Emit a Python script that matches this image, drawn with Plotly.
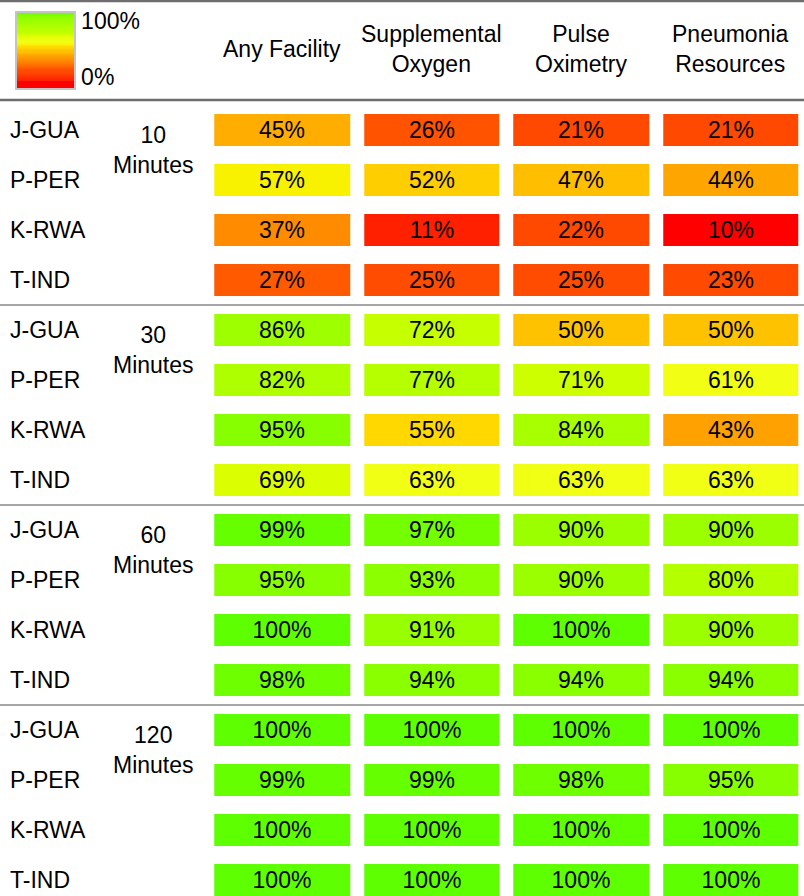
import plotly.graph_objects as go

# ---------------- data ----------------
measures = ["Any Facility", "Supplemental<br>Oxygen", "Pulse<br>Oximetry", "Pneumonia<br>Resources"]
sites = ["J-GUA", "P-PER", "K-RWA", "T-IND"]
groups = ["10<br>Minutes", "30<br>Minutes", "60<br>Minutes", "120<br>Minutes"]

min10 = [[45, 26, 21, 21], [57, 52, 47, 44], [37, 11, 22, 10], [27, 25, 25, 23]]
min30 = [[86, 72, 50, 50], [82, 77, 71, 61], [95, 55, 84, 43], [69, 63, 63, 63]]
min60 = [[99, 97, 90, 90], [95, 93, 90, 80], [100, 91, 100, 90], [98, 94, 94, 94]]
min120 = [[100, 100, 100, 100], [99, 99, 98, 95], [100, 100, 100, 100], [100, 100, 100, 100]]

legend_ticks = [16, 88]
legend_text = ["0%", "100%"]

# ---------------- style ----------------
FONT = "Liberation Sans, Arial, Helvetica, sans-serif"
FS = 23
W, H = 804, 896
ROW_PX = 50          # pixel pitch of rows
COL_PX = 149.5       # pixel pitch of columns
FIRST_ROW_PX = 130   # centre of first row
FIRST_COL_PX = 282   # centre of first column

colorscale = [
    [0.00, "#FF0000"], [0.10, "#FF0000"], [0.11, "#FF2000"], [0.21, "#FF4800"],
    [0.25, "#FF4C00"], [0.27, "#FF5A00"], [0.37, "#FF8C00"], [0.44, "#FFA500"],
    [0.47, "#FFBE00"], [0.50, "#FFC200"], [0.53, "#FFD400"], [0.55, "#FFD800"],
    [0.57, "#F8F200"], [0.61, "#F2FF14"], [0.63, "#F0FF14"], [0.69, "#DCFF00"],
    [0.72, "#C6FF00"], [0.77, "#B6FF00"], [0.80, "#B4FF00"], [0.84, "#A8FF00"],
    [0.86, "#9EFF00"], [0.90, "#9CFF00"], [0.93, "#8CFF00"], [0.95, "#88FF00"],
    [0.97, "#74FF00"], [0.98, "#6EFF00"], [1.00, "#5EFF00"],
]

all_groups = [min10, min30, min60, min120]
z = [row for g in all_groups for row in g]
n_rows = len(z)
n_cols = len(measures)

fig = go.Figure()
fig.add_trace(go.Heatmap(
    z=z,
    x=list(range(n_cols)),
    y=list(range(n_rows)),
    zmin=0, zmax=100,
    colorscale=colorscale,
    xgap=14, ygap=18,
    texttemplate="%{z}%",
    textfont=dict(family=FONT, size=FS, color="black"),
    hoverinfo="skip",
    colorbar=dict(
        xref="container", yref="container",
        x=16 / W, xanchor="left",
        y=1 - 12 / H, yanchor="top",
        lenmode="pixels", len=77,
        thicknessmode="pixels", thickness=59,
        xpad=0, ypad=0,
        outlinewidth=2, outlinecolor="#c4c4c4",
        tickvals=legend_ticks, ticktext=legend_text,
        ticks="", ticklen=0,
        tickfont=dict(family=FONT, size=FS, color="black"),
    ),
))

annotations = []
# header labels
for i, m in enumerate(measures):
    annotations.append(dict(
        x=i, xref="x", y=1 - 49 / H, yref="paper",
        text=m, showarrow=False, xanchor="center", yanchor="middle",
        font=dict(family=FONT, size=FS, color="black"),
    ))
# row labels and group labels
for g, glabel in enumerate(groups):
    for s, site in enumerate(sites):
        annotations.append(dict(
            x=8 / W, xref="paper", y=g * len(sites) + s, yref="y",
            text=site, showarrow=False, xanchor="left", yanchor="middle",
            font=dict(family=FONT, size=FS, color="black"),
        ))
    annotations.append(dict(
        x=153 / W, xref="paper", y=g * len(sites) + 0.4, yref="y",
        text=glabel, showarrow=False, xanchor="center", yanchor="middle",
        font=dict(family=FONT, size=FS, color="black"),
    ))

shapes = []
for g in range(1, len(groups)):
    yy = g * len(sites) - 0.5
    shapes.append(dict(type="line", xref="paper", x0=0, x1=1, yref="y", y0=yy, y1=yy,
                       line=dict(color="#a6a6a6", width=2)))
for yp in (1 - 1 / H, 1 - 100 / H):
    shapes.append(dict(type="line", xref="paper", x0=0, x1=1, yref="paper", y0=yp, y1=yp,
                       line=dict(color="#6e6e6e", width=2.5)))

x0 = -FIRST_COL_PX / COL_PX
y0 = -FIRST_ROW_PX / ROW_PX
fig.update_layout(
    width=W, height=H,
    margin=dict(l=0, r=0, t=0, b=0, autoexpand=False),
    paper_bgcolor="white", plot_bgcolor="white",
    xaxis=dict(range=[x0, x0 + W / COL_PX], visible=False, fixedrange=True),
    yaxis=dict(range=[y0 + H / ROW_PX, y0], visible=False, fixedrange=True),
    annotations=annotations,
    shapes=shapes,
    showlegend=False,
)

fig.write_html(
    "out.html",
    config={"displayModeBar": False},
    post_script="document.body.style.margin='0';document.body.style.padding='0';",
)
